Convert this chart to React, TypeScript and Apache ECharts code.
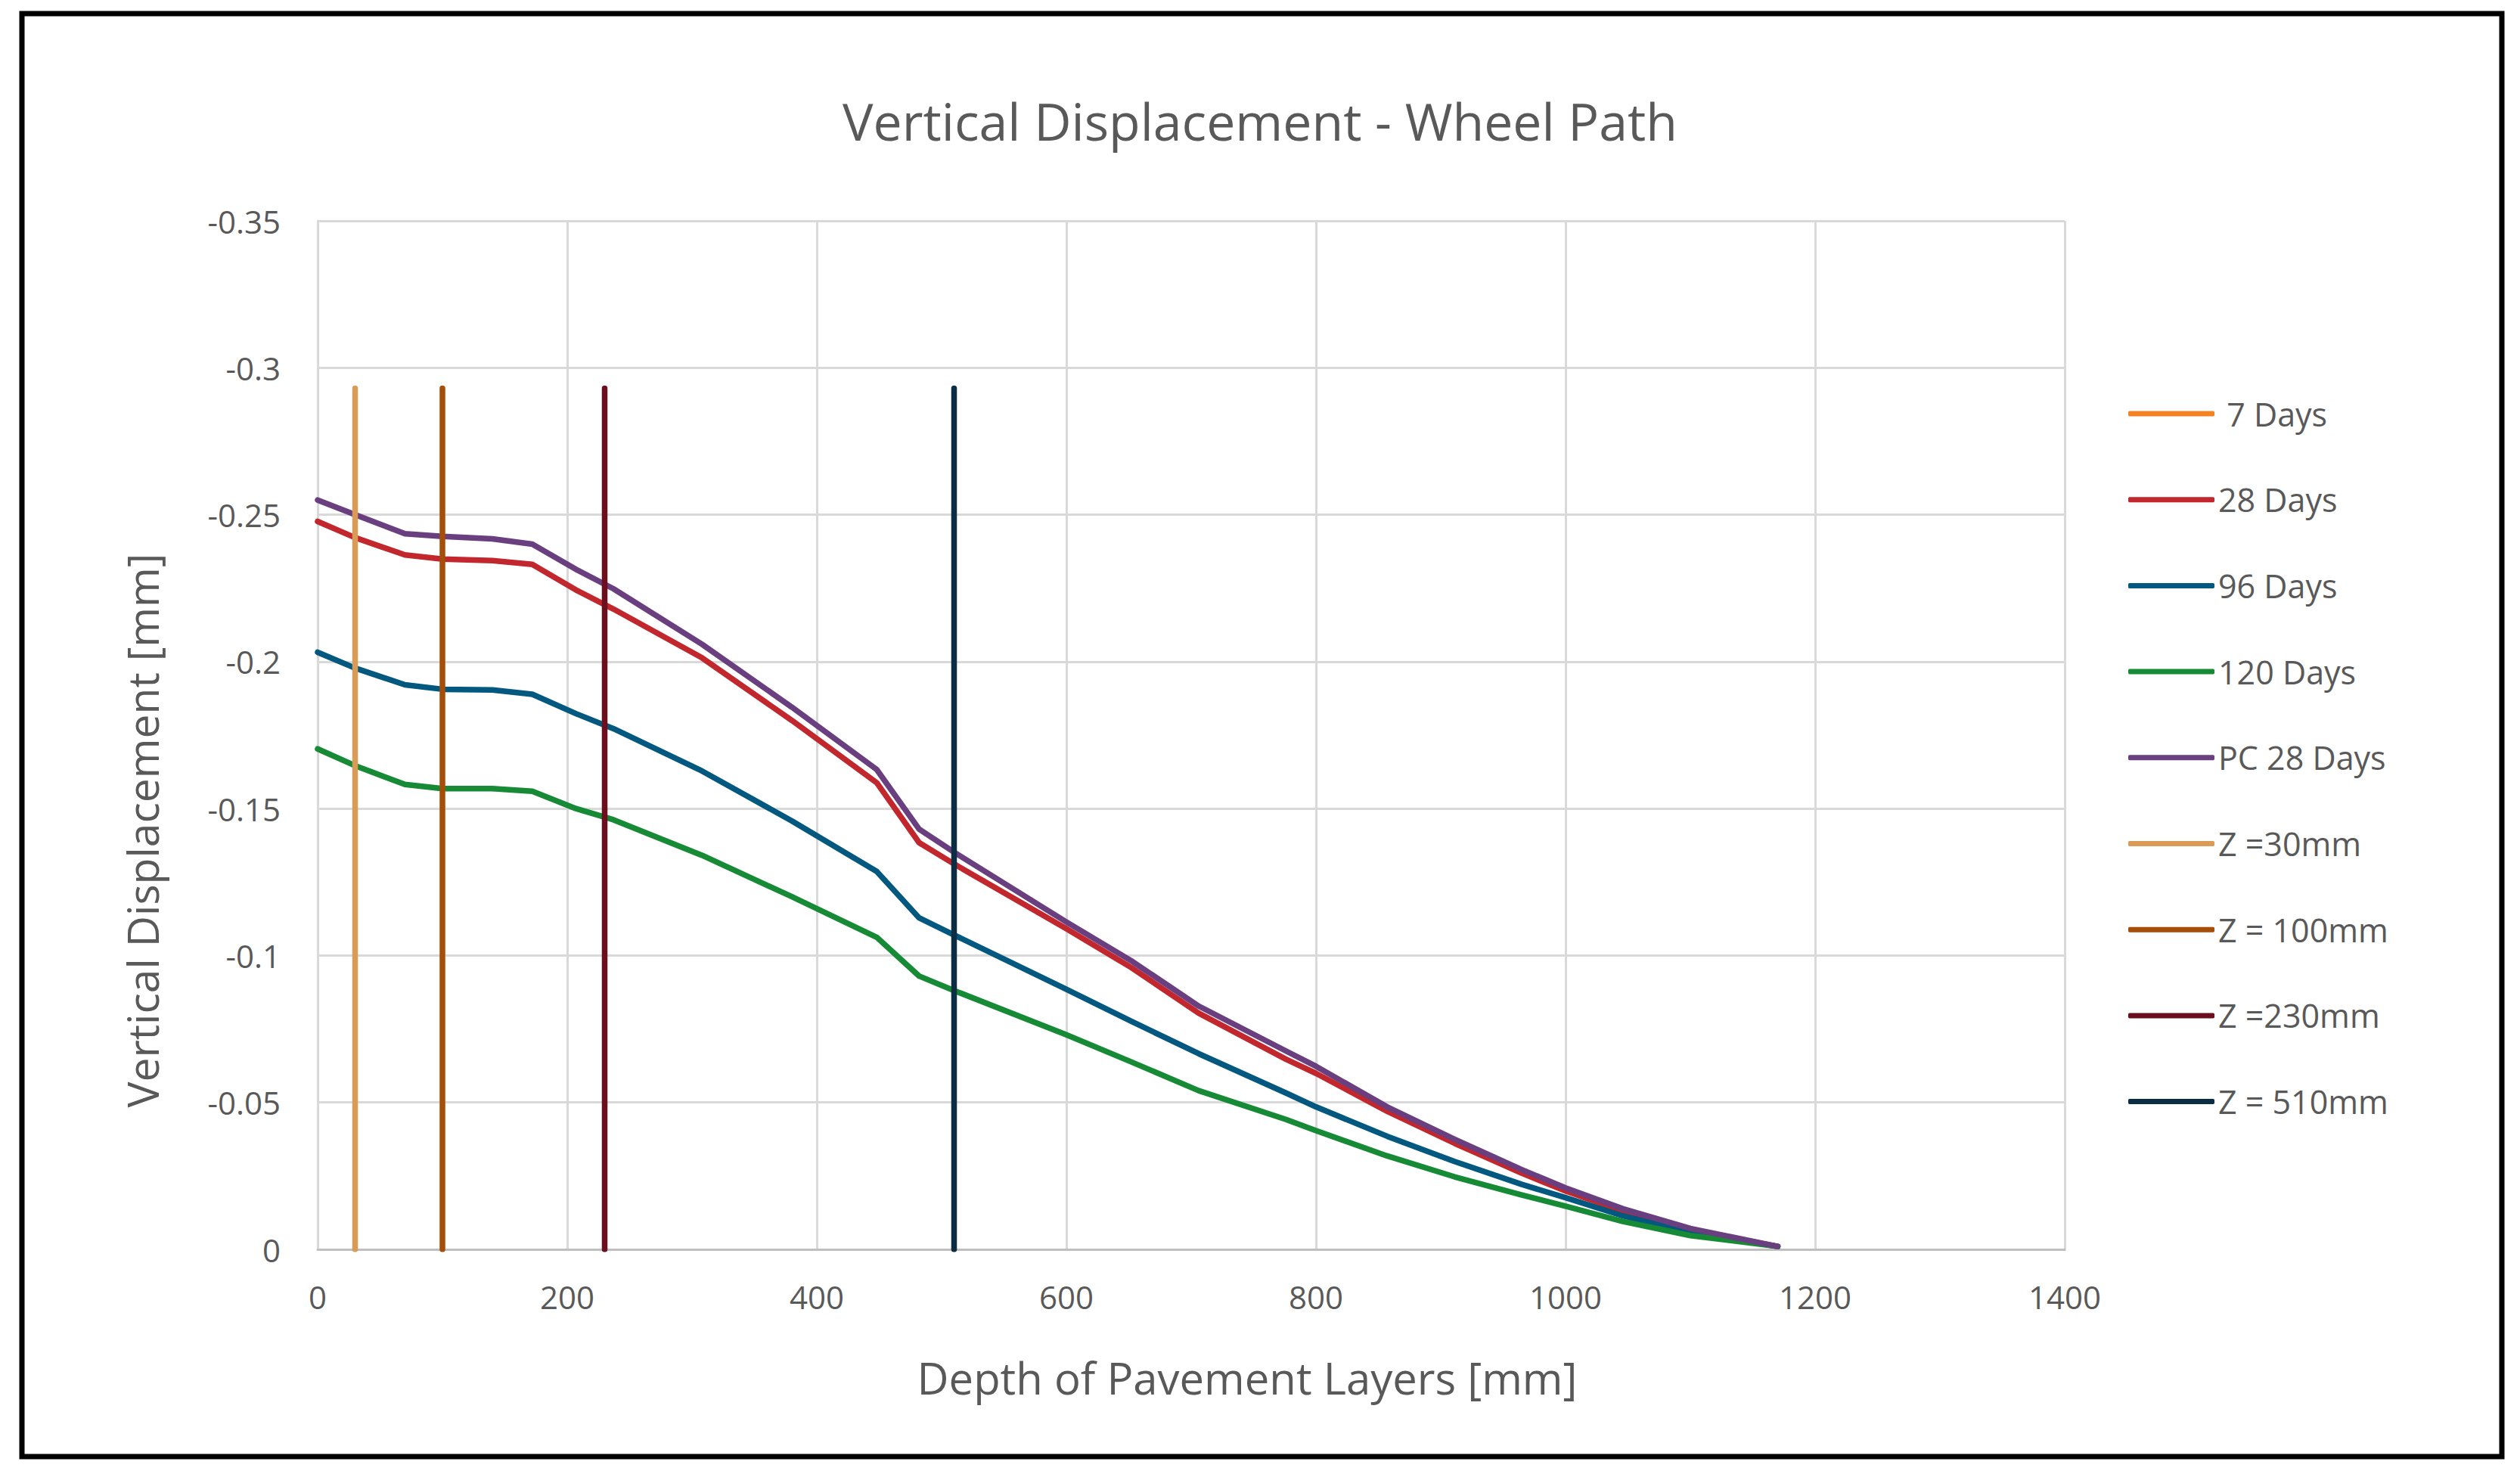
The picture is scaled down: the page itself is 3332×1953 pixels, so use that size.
import React, { useEffect, useRef } from 'react';
import * as echarts from 'echarts';

// depth of pavement layers [mm]
const depth = [0, 30, 70, 100, 140, 172, 207, 237, 308, 380, 448, 482, 511, 600, 652, 706, 776, 800, 857, 911, 965, 1000, 1046, 1100, 1170];

// vertical displacement [mm]
const days7: number[] = [];
const days28 = [-0.2477, -0.2422, -0.2363, -0.2349, -0.2344, -0.2331, -0.2244, -0.2179, -0.2013, -0.18, -0.1588, -0.1384, -0.1309, -0.1091, -0.0959, -0.0804, -0.0647, -0.0599, -0.047, -0.0361, -0.0259, -0.0199, -0.013, -0.0066, -0.001];
const days96 = [-0.2032, -0.1978, -0.1921, -0.1906, -0.1904, -0.1889, -0.1823, -0.1772, -0.1628, -0.1458, -0.1286, -0.1128, -0.1068, -0.0885, -0.0776, -0.0666, -0.0532, -0.0485, -0.0385, -0.0299, -0.0221, -0.0176, -0.0114, -0.0057, -0.001];
const days120 = [-0.1703, -0.1646, -0.1582, -0.1568, -0.1568, -0.1559, -0.15, -0.1462, -0.1341, -0.12, -0.1062, -0.093, -0.0879, -0.073, -0.0638, -0.054, -0.0442, -0.0404, -0.0318, -0.0247, -0.0185, -0.0147, -0.0095, -0.0047, -0.001];
const pc28 = [-0.255, -0.25, -0.2435, -0.2426, -0.2418, -0.24, -0.2314, -0.2248, -0.2059, -0.1845, -0.1633, -0.143, -0.1349, -0.1114, -0.0982, -0.0828, -0.0675, -0.0623, -0.0485, -0.0375, -0.0271, -0.0209, -0.0138, -0.0071, -0.001];

// layer interfaces drawn as vertical markers
const zDepths = [30, 100, 230, 510];
const zNames = ['Z =30mm', 'Z = 100mm', 'Z =230mm', 'Z = 510mm'];
const zTop = -0.293;

const curveNames = [' 7 Days', '28 Days', '96 Days', '120 Days', 'PC 28 Days'];
const curveValues = [days7, days28, days96, days120, pc28];

const curveColors = ['#F58220', '#C1272D', '#02587F', '#178A36', '#6A3F7F'];
const zColors = ['#D99B55', '#A64D08', '#6B0E1D', '#0B2D44'];

const FONT = 'Open Sans';
const GREY = '#595959';
const LW = 7.5;

export default function App() {
  const ref = useRef<HTMLDivElement | null>(null);

  useEffect(() => {
    if (!ref.current) return;
    const chart = echarts.init(ref.current, undefined, { renderer: 'svg' });

    const curves = curveNames.map((name, i) => ({
      name,
      type: 'line',
      data: curveValues[i].map((v, j) => [depth[j], v]),
      showSymbol: false,
      symbol: 'none',
      lineStyle: { width: LW, color: curveColors[i], cap: 'round', join: 'round' },
      itemStyle: { color: curveColors[i] },
    }));
    const markers = zNames.map((name, i) => ({
      name,
      type: 'line',
      data: [[zDepths[i], 0], [zDepths[i], zTop]],
      showSymbol: false,
      symbol: 'none',
      lineStyle: { width: LW, color: zColors[i], cap: 'round' },
      itemStyle: { color: zColors[i] },
    }));

    chart.setOption({
      animation: false,
      backgroundColor: '#ffffff',
      textStyle: { fontFamily: FONT },
      title: {
        text: 'Vertical Displacement - Wheel Path',
        left: 'center',
        top: 120,
        textStyle: { fontFamily: FONT, fontSize: 68, fontWeight: 'normal', color: GREY },
      },
      grid: { left: 420, right: 602, top: 292, bottom: 301, containLabel: false },
      legend: {
        orient: 'vertical',
        left: 2809,
        top: 520,
        icon: 'roundRect',
        itemWidth: 114,
        itemHeight: 7,
        itemGap: 69.7,
        data: [...curveNames, ...zNames],
        textStyle: { fontFamily: FONT, fontSize: 43, color: GREY, lineHeight: 44 },
      },
      xAxis: {
        type: 'value',
        min: 0,
        max: 1400,
        interval: 200,
        axisLine: { show: true, onZero: false, lineStyle: { color: '#BFBFBF', width: 3 } },
        axisTick: { show: false },
        axisLabel: { fontFamily: FONT, fontSize: 42, color: GREY, margin: 41, formatter: (v: number) => String(v) },
        splitLine: { show: true, lineStyle: { color: '#D9D9D9', width: 3 } },
      },
      yAxis: {
        type: 'value',
        inverse: true,
        min: -0.35,
        max: 0,
        interval: 0.05,
        axisLine: { show: true, onZero: false, lineStyle: { color: '#D9D9D9', width: 3 } },
        axisTick: { show: false },
        axisLabel: { fontFamily: FONT, fontSize: 42, color: GREY, margin: 49 },
        splitLine: { show: true, lineStyle: { color: '#D9D9D9', width: 3 } },
      },
      graphic: [
        {
          type: 'rect',
          shape: { x: 29, y: 18, width: 3279, height: 1908 },
          style: { fill: 'none', stroke: '#000000', lineWidth: 7 },
          silent: true,
        },
        {
          type: 'text',
          x: 188,
          y: 1098,
          rotation: Math.PI / 2,
          style: {
            text: 'Vertical Displacement [mm]',
            fontFamily: FONT,
            fontSize: 57,
            fill: GREY,
            align: 'center',
            verticalAlign: 'middle',
          },
        },
        {
          type: 'text',
          x: 1649,
          y: 1821,
          style: {
            text: 'Depth of Pavement Layers [mm]',
            fontFamily: FONT,
            fontSize: 58,
            fill: GREY,
            align: 'center',
            verticalAlign: 'middle',
          },
        },
      ],
      series: [...curves, ...markers],
    });

    return () => { chart.dispose(); };
  }, []);

  return (
    <div
      ref={ref}
      style={{ position: 'fixed', left: 0, top: 0, width: 3332, height: 1953, background: '#fff' }}
    />
  );
}
